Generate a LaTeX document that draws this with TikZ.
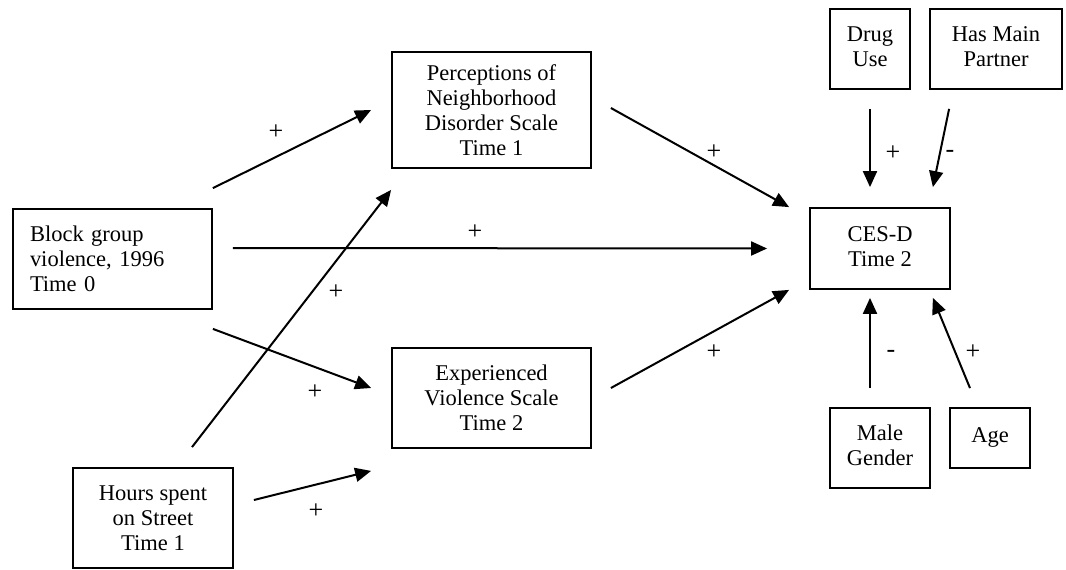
\documentclass[tikz,border=0pt]{standalone}
\usepackage{fontspec}
\setmainfont{Liberation Serif}
\usetikzlibrary{arrows.meta}
\newcommand{\twol}[2]{\raisebox{4pt}{\begin{tabular}{@{}c@{}}#1\\#2\end{tabular}}}
\begin{document}
\begin{tikzpicture}[x=1pt,y=-1pt,
  box/.style={draw,line width=1.8pt,inner sep=0pt,align=center,
    font=\fontsize{22.5}{25}\selectfont},
  conn/.style={line width=2pt,-{Triangle[length=16pt,width=14pt]}},
  sign/.style={font=\fontsize{26}{28}\selectfont,inner sep=0pt}]
\useasboundingbox (0,0) rectangle (1066,570);
\fill[white] (0,0) rectangle (1066,570);
% nodes
\node[box,minimum width=199pt,minimum height=100pt,text width=165pt,align=left] (block) at (112.5,259) {Block group\\violence, 1996\\Time 0};
\node[box,minimum width=199pt,minimum height=116pt] (perc) at (491.5,110) {Perceptions of\\Neighborhood\\Disorder Scale\\Time 1};
\node[box,minimum width=199pt,minimum height=100pt] (exp) at (491.5,398) {Experienced\\Violence Scale\\Time 2};
\node[box,minimum width=160pt,minimum height=100pt] (hours) at (153,518) {Hours spent\\on Street\\Time 1};
\node[box,minimum width=140pt,minimum height=81pt] (cesd) at (880,248.5) {\twol{CES-D}{Time 2}};
\node[box,minimum width=80pt,minimum height=80pt] (drug) at (870,49) {\twol{Drug}{Use}};
\node[box,minimum width=132pt,minimum height=80pt] (partner) at (996,49) {\twol{Has Main}{Partner}};
\node[box,minimum width=100pt,minimum height=80pt] (male) at (880,448) {\twol{Male}{Gender}};
\node[box,minimum width=80pt,minimum height=60pt] (age) at (990,438) {\raisebox{6pt}{Age}};
% connectors
\draw[conn] ([shift={(0,-20)}]block.north east) -- ([shift={(-20,0)}]perc.west);
\draw[conn] ([shift={(39,-20)}]hours.north) -- ([shift={(0,21)}]perc.south west);
\draw[conn] ([shift={(0,19)}]block.south east) -- ([shift={(-20,-10)}]exp.west);
\draw[conn] ([shift={(20,-18)}]hours.east) -- ([shift={(-20,22)}]exp.south west);
\draw[conn] ([shift={(20,-11)}]block.east) -- ([shift={(-42,0)}]cesd.west);
\draw[conn] ([shift={(19,-2)}]perc.east) -- ([shift={(-20,0)}]cesd.north west);
\draw[conn] ([shift={(19,-10)}]exp.east) -- ([shift={(-20,0)}]cesd.south west);
\draw[conn] ([shift={(0,19)}]drug.south) -- ([shift={(-10,-20)}]cesd.north);
\draw[conn] ([shift={(20,19)}]partner.south west) -- ([shift={(-18,-20)}]cesd.north east);
\draw[conn] ([shift={(-10,-19)}]male.north) -- ([shift={(-10,8)}]cesd.south);
\draw[conn] ([shift={(-20,-19)}]age.north) -- ([shift={(-18,8)}]cesd.south east);
% signs
\node[sign] (s1) at (276,132) {+};
\node[sign] (s2) at (336,292) {+};
\node[sign] (s3) at (315,392) {+};
\node[sign] (s4) at (316,511) {+};
\node[sign] (s5) at (475,232) {+};
\node[sign] (s6) at (714,152) {+};
\node[sign] (s7) at (714,352) {+};
\node[sign] (s8) at (893,153) {+};
\node[sign] (s9) at (950,154) {-};
\node[sign] (s10) at (891,354) {-};
\node[sign] (s11) at (973,352) {+};
\end{tikzpicture}
\end{document}
